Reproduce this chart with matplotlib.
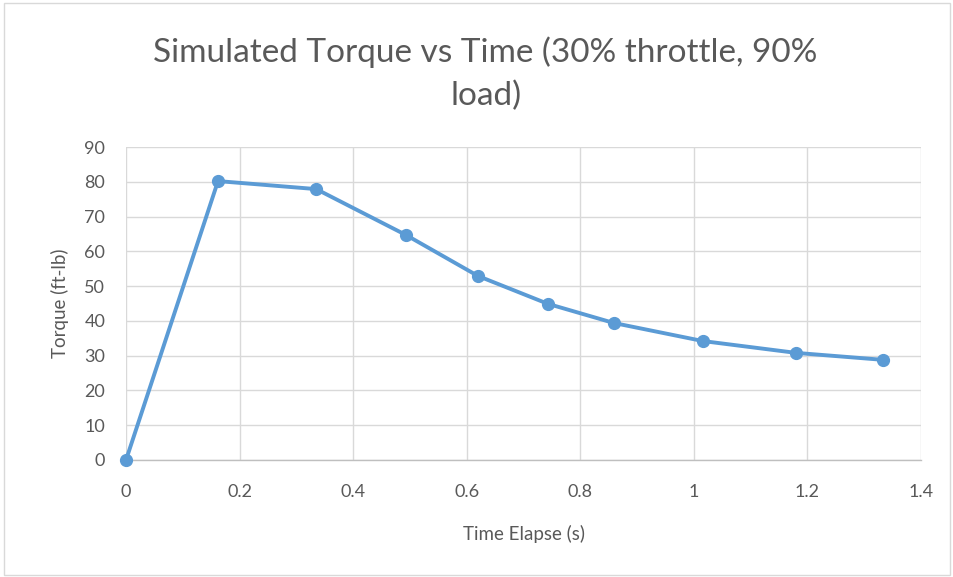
import matplotlib.pyplot as plt
from matplotlib.patches import Rectangle

# Simulated torque data
time_s = [0.0, 0.162, 0.335, 0.493, 0.620, 0.743, 0.859, 1.016, 1.180, 1.333]
torque_ftlb = [0.0, 80.2, 77.9, 64.7, 52.9, 44.9, 39.4, 34.2, 30.8, 28.8]

x_ticks = [0, 0.2, 0.4, 0.6, 0.8, 1.0, 1.2, 1.4]
x_tick_labels = ["0", "0.2", "0.4", "0.6", "0.8", "1", "1.2", "1.4"]
y_ticks = list(range(0, 91, 10))

LINE_COLOR = "#5B9BD5"
TEXT_COLOR = "#595959"
GRID_COLOR = "#D9D9D9"

plt.rcParams["font.family"] = ["Lato", "DejaVu Sans"]

fig = plt.figure(figsize=(9.54, 5.77), dpi=100)
ax = fig.add_axes([0.1321, 0.2028, 0.8333, 0.5424])

ax.plot(time_s, torque_ftlb, color=LINE_COLOR, linewidth=2.8,
        marker="o", markersize=8.5, clip_on=False, zorder=3)

ax.set_xlim(0, 1.4)
ax.set_ylim(0, 90)
ax.set_xticks(x_ticks)
ax.set_xticklabels(x_tick_labels)
ax.set_yticks(y_ticks)

ax.grid(True, color=GRID_COLOR, linewidth=1.0)
ax.set_axisbelow(True)
for side in ("top", "right", "left"):
    ax.spines[side].set_visible(False)
ax.spines["bottom"].set_color("#BFBFBF")
ax.spines["bottom"].set_linewidth(1.0)
ax.tick_params(axis="x", length=0, labelsize=13, colors=TEXT_COLOR, pad=17)
ax.tick_params(axis="y", length=0, labelsize=13, colors=TEXT_COLOR, pad=15)

ax.set_xlabel("Time Elapse (s)", fontsize=13.5, color=TEXT_COLOR, labelpad=18)
ax.set_ylabel("Torque (ft-lb)", fontsize=13.5, color=TEXT_COLOR, labelpad=11)

fig.text(0.509, 0.872, "Simulated Torque vs Time (30% throttle, 90%\nload)",
         ha="center", va="center", fontsize=24, color=TEXT_COLOR,
         linespacing=1.5)

fig.patches.append(Rectangle((0.004, 0.004), 0.992, 0.99, transform=fig.transFigure,
                             fill=False, edgecolor="#D9D9D9", linewidth=1.0))

fig.savefig("out.png", dpi=100, facecolor="white")
